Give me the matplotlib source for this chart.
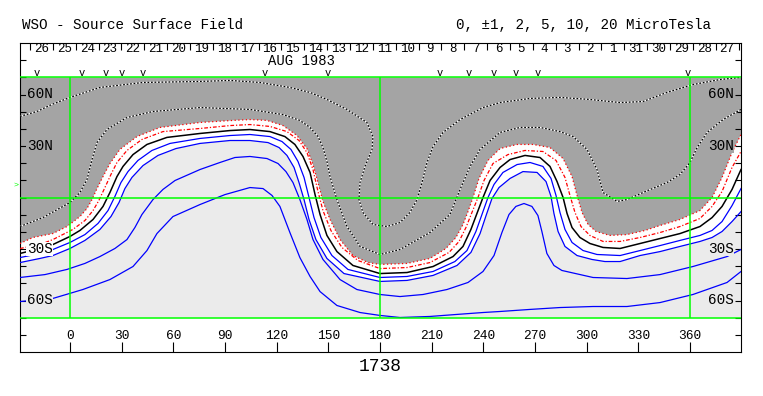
import matplotlib.pyplot as plt
import numpy as np

plt.rcParams['font.family'] = ['Liberation Mono', 'DejaVu Sans Mono']

# contour lines, (lon, lat) in degrees
zero_lon = [-29.0, -17.4, -9.9, 0.0, 5.8, 13.4, 19.2, 23.2, 27.3, 30.8, 36.6, 44.7, 56.3, 75.5, 92.9,
            104.5, 116.1, 124.8, 130.6, 135.3, 139.4, 142.3, 145.2, 149.2, 155.0, 164.3, 180.0, 195.7,
            210.8, 222.4, 228.2, 232.8, 236.3, 239.8, 243.9, 249.7, 255.5, 264.2, 272.9, 278.7, 282.8,
            286.3, 288.6, 291.5, 296.1, 301.9, 309.5, 319.4, 331.0, 342.6, 354.2, 365.8, 372.8, 378.6,
            384.4, 389.6]
zero_lat = [-32.6, -29.7, -27.4, -22.7, -19.2, -12.8, -5.2, 2.9, 12.2, 18.1, 25.0, 30.9, 35.0, 37.3, 39.0,
            39.6, 38.4, 35.5, 30.9, 23.9, 14.6, 1.7, -9.9, -22.1, -31.5, -39.6, -44.3, -43.7,
            -40.2, -34.4, -28.5, -18.6, -9.3, 0.0, 9.9, 17.5, 22.1, 24.5, 23.3, 18.1, 9.3,
            0.0, -9.3, -17.5, -23.3, -26.8, -29.1, -29.7, -26.8, -23.9, -21.0, -16.9, -11.7, -5.2,
            4.7, 16.3]

neg1_lon = [-29.0, -17.4, -9.9, 1.7, 8.7, 13.4, 16.8, 20.3, 23.8, 27.3, 33.1, 41.8, 54.0, 75.5, 92.9,
            104.5, 116.1, 126.0, 133.0, 137.6, 141.1, 144.0, 146.9, 151.5, 157.9, 167.2, 180.0, 195.7,
            209.0, 220.1, 225.9, 229.9, 233.4, 236.9, 240.4, 245.6, 254.3, 264.2, 274.6, 282.2, 287.4,
            290.3, 293.2, 296.7, 301.9, 309.5, 319.4, 331.0, 342.6, 354.2, 365.8, 372.8, 378.6, 384.4,
            389.6]
neg1_lat = [-29.7, -27.4, -24.5, -18.6, -13.4, -7.6, -1.7, 5.8, 13.4, 20.4, 27.4, 33.8, 38.4, 40.2, 41.9,
            42.5, 41.4, 38.4, 33.2, 26.2, 16.3, 3.5, -7.6, -19.2, -29.1, -36.7, -41.4, -40.8,
            -37.9, -32.0, -25.6, -17.5, -8.7, 0.0, 9.9, 19.8, 25.0, 27.4, 26.8, 21.6, 11.7,
            1.2, -8.7, -16.9, -22.1, -25.6, -25.6, -23.3, -20.4, -16.9, -12.2, -5.2, 3.5, 17.5,
            26.8]

neg2_lon = [-29.0, -21.5, -9.9, -1.7, 5.8, 9.9, 12.8, 15.7, 19.2, 23.2, 29.0, 38.9, 52.3, 75.5, 94.6,
            104.5, 114.4, 123.7, 131.8, 137.6, 141.1, 144.0, 146.9, 151.0, 156.8, 164.3, 173.0, 180.0,
            195.7, 209.0, 218.3, 224.1, 228.2, 231.1, 234.0, 237.5, 242.7, 249.7, 259.6, 268.8, 278.7,
            286.3, 291.5, 294.4, 297.3, 300.8, 305.4, 313.5, 323.4, 333.9, 342.6, 354.2, 365.8, 372.8,
            378.6, 384.4, 389.6]
neg2_lat = [-26.8, -23.3, -21.0, -16.9, -11.1, -6.4, -1.2, 5.2, 12.2, 19.8, 28.0, 35.5, 40.8, 43.7, 44.9,
            45.4, 44.9, 41.9, 36.1, 28.5, 19.2, 8.7, -2.3, -12.8, -24.5, -33.8, -37.9, -39.0,
            -38.4, -35.5, -29.7, -23.3, -15.7, -8.2, 0.0, 11.1, 21.6, 28.5, 30.9, 30.9, 29.1,
            22.7, 12.2, 1.2, -8.7, -15.7, -19.8, -22.1, -21.6, -19.2, -16.3, -12.8, -7.6, 0.0,
            11.7, 26.2, 36.7]

pos1_lon = [-29.0, -17.4, -9.9, 0.0, 8.7, 16.3, 22.1, 26.1, 29.6, 33.7, 39.5, 47.6, 58.1, 75.5, 92.9,
            104.5, 116.1, 123.1, 128.3, 132.4, 135.9, 138.8, 141.7, 145.7, 152.1, 161.4, 180.0, 195.7,
            210.8, 223.5, 230.5, 235.7, 239.2, 242.7, 246.2, 251.4, 259.6, 267.1, 274.6, 279.3, 282.2,
            284.5, 287.4, 291.5, 297.9, 306.0, 319.4, 331.0, 342.6, 354.2, 365.8, 372.8, 378.6, 384.4,
            389.6]
pos1_lat = [-35.0, -32.6, -30.3, -26.2, -21.6, -15.1, -7.6, 0.6, 8.7, 15.1, 21.6, 27.4, 31.5, 34.4, 36.1,
            36.7, 35.5, 32.6, 28.0, 21.0, 11.7, 0.0, -11.7, -23.3, -33.8, -41.9, -46.6, -46.0,
            -43.1, -37.3, -30.9, -19.8, -9.9, 0.0, 7.6, 14.6, 19.2, 20.4, 18.1, 11.1, 1.2,
            -8.7, -18.6, -26.2, -30.9, -33.2, -33.8, -30.9, -28.0, -25.0, -22.1, -19.2, -14.0, -4.7,
            5.2]

pos2_lon = [-29.0, -17.4, -9.9, 0.0, 8.7, 17.4, 23.8, 28.5, 31.9, 36.0, 42.4, 51.1, 61.5, 75.5, 92.9,
            104.5, 115.0, 121.4, 126.0, 130.1, 133.0, 135.9, 138.8, 142.8, 149.2, 159.1, 180.0, 195.7,
            210.8, 224.7, 232.8, 238.1, 241.6, 245.0, 249.1, 255.5, 263.0, 271.2, 276.4, 279.3, 281.0,
            283.4, 287.4, 294.4, 303.1, 310.6, 319.4, 331.0, 342.6, 354.2, 365.8, 372.8, 378.6, 384.4,
            389.6]
pos2_lat = [-37.9, -35.5, -33.8, -29.7, -25.0, -18.6, -11.1, -2.9, 5.2, 11.7, 18.6, 24.5, 28.5, 31.5, 33.2,
            33.2, 32.0, 29.1, 24.5, 17.5, 8.7, -1.2, -12.8, -24.5, -35.5, -44.3, -48.9, -48.3,
            -45.4, -39.6, -32.0, -21.0, -10.5, -0.6, 5.8, 11.1, 15.1, 14.6, 9.3, 0.6, -9.3,
            -19.8, -28.5, -33.8, -36.1, -37.3, -37.3, -33.8, -31.5, -28.5, -25.6, -23.3, -19.8, -14.0,
            -8.2]

pos5_lon = [-29.0, -14.5, -1.7, 8.7, 17.4, 26.1, 33.1, 37.7, 41.8, 48.2, 54.0, 61.0, 75.5, 87.1, 95.8,
            104.5, 114.4, 120.8, 125.4, 129.5, 133.5, 137.6, 141.1, 146.9, 156.8, 166.6, 180.0, 191.6,
            205.0, 218.9, 231.1, 239.8, 246.2, 250.8, 254.9, 258.9, 263.6, 268.2, 271.7, 274.0, 276.9,
            281.0, 285.6, 303.7, 323.4, 342.6, 361.7, 381.5, 389.6]
pos5_lat = [-46.6, -44.9, -41.9, -38.4, -34.4, -29.7, -24.5, -17.5, -9.9, -1.2, 4.7, 9.9, 16.3, 20.4, 23.3,
            23.9, 22.7, 19.8, 15.1, 8.7, -1.2, -12.8, -24.5, -36.1, -47.8, -53.6, -56.5, -57.7,
            -56.5, -53.6, -49.5, -43.1, -33.8, -20.4, -9.9, -5.2, -3.5, -5.2, -10.5, -19.8, -32.6,
            -39.6, -42.5, -46.6, -47.2, -44.9, -40.2, -34.4, -30.3]

pos10_lon = [-29.0, -9.9, 7.5, 23.2, 36.6, 44.7, 50.5, 59.8, 75.5, 90.0, 104.5, 112.1, 117.3, 121.9, 127.7,
             133.5, 139.4, 145.2, 155.0, 168.4, 180.0, 191.6, 209.0, 223.5, 239.8, 249.7, 267.1, 284.5,
             303.7, 323.4, 342.6, 361.7, 381.5, 389.6]
pos10_lat = [-60.6, -58.8, -53.6, -47.8, -40.2, -30.9, -21.0, -11.1, -4.1, 1.7, 5.8, 5.2, 1.2, -5.2, -20.4,
             -35.0, -46.0, -54.8, -62.9, -67.0, -68.7, -69.9, -69.3, -68.2, -67.0, -66.4, -65.2, -64.1,
             -63.5, -63.5, -61.2, -56.5, -49.5, -43.1]

neg5_lon = [-29.0, -15.7, 0.0, 5.8, 9.9, 12.8, 15.7, 21.5, 33.1, 48.2, 75.5, 104.5, 123.7, 133.5, 139.4,
            144.0, 146.9, 149.2, 151.0, 155.0, 160.8, 168.4, 180.0, 191.6, 209.0, 220.6, 226.5, 232.3,
            238.1, 249.7, 261.3, 272.9, 284.5, 292.1, 300.2, 306.0, 309.5, 317.6, 323.4, 332.7, 346.6,
            354.2, 360.0, 364.1, 369.9, 379.2, 389.6]
neg5_lat = [-16.9, -11.7, -2.9, 2.9, 10.5, 22.1, 32.0, 39.6, 46.6, 50.1, 52.4, 51.3, 48.3, 44.9, 40.8,
            35.5, 29.1, 21.0, 12.2, -1.2, -16.9, -28.5, -33.2, -30.3, -20.4, -9.9, 4.7, 18.1,
            28.0, 37.9, 40.8, 40.8, 38.4, 35.5, 28.0, 16.3, 2.9, -2.3, -1.2, 2.9, 8.7,
            13.4, 20.4, 29.1, 37.9, 45.4, 51.3]

neg10_lon = [-29.0, -19.2, -10.5, 0.0, 17.4, 42.4, 75.5, 92.9, 110.3, 127.7, 139.4, 149.2, 160.8, 172.4,
             175.9, 175.4, 171.3, 168.4, 167.8, 170.1, 175.9, 184.1, 191.6, 197.4, 201.5, 204.4, 207.3,
             210.8, 216.6, 226.5, 239.8, 249.7, 267.1, 284.5, 301.9, 319.4, 332.7, 346.6, 361.7, 377.4,
             389.6]
neg10_lat = [47.2, 50.1, 54.2, 58.3, 64.1, 67.0, 67.6, 68.2, 67.0, 64.1, 61.2, 57.1, 51.3, 43.7,
             35.5, 28.0, 18.1, 8.7, -1.2, -8.7, -15.7, -16.9, -14.6, -8.7, -1.2, 8.7, 20.4,
             29.7, 37.9, 45.4, 52.4, 55.3, 57.7, 58.3, 57.1, 55.3, 55.9, 61.2, 65.8, 68.7,
             70.0]

# axis annotation values
lon_ticks = list(range(0, 361, 30))
lat_labels = {60: '60N', 30: '30N', -30: '30S', -60: '60S'}
days = [26, 25, 24, 23, 22, 21, 20, 19, 18, 17, 16, 15, 14, 13, 12, 11, 10, 9, 8, 7, 6, 5, 4, 3, 2, 1,
        31, 30, 29, 28, 27]
day_start = -23.2      # longitude of the first day separator
day_step = 13.27       # degrees per day
obs_lon = [-19.2, 7.0, 20.9, 30.2, 42.4, 113.2, 149.8, 214.8, 231.7, 246.2, 259.0, 271.8, 358.8]
b0_lat = 7.0
rotation = '1738'

DARK = '#a4a4a4'
LIGHT = '#ebebeb'
GREEN = '#00ff00'
XMIN, XMAX = -29.0, 389.6
MAPLAT = 70

fig = plt.figure(figsize=(7.63, 3.96), dpi=100)
ax = fig.add_axes([20 / 763, 44 / 396, 721 / 763, 309 / 396])
ax.set_xlim(XMIN, XMAX)
ax.set_ylim(-90, 90)

# shaded polarity regions
ax.fill(np.r_[neg2_lon, XMAX, XMIN], np.r_[neg2_lat, MAPLAT, MAPLAT], color=DARK, lw=0, zorder=1)
ax.fill(np.r_[pos2_lon, XMAX, XMIN], np.r_[pos2_lat, -MAPLAT, -MAPLAT], color=LIGHT, lw=0, zorder=1)

# negative contours in the dark region: black/white dashes
for lo, la in [(neg5_lon, neg5_lat), (neg10_lon, neg10_lat)]:
    ax.plot(lo, la, color='white', lw=0.9, zorder=3)
    ax.plot(lo, la, color='black', lw=0.9, dashes=(1.4, 1.4), zorder=3)

ax.plot(neg2_lon, neg2_lat, color='red', lw=0.9, dashes=(1, 2), zorder=3)
ax.plot(neg1_lon, neg1_lat, color='red', lw=0.9, dashes=(3, 1.5, 1, 1.5), zorder=3)
ax.plot(zero_lon, zero_lat, color='black', lw=1.1, zorder=3)
for lo, la in [(pos1_lon, pos1_lat), (pos2_lon, pos2_lat), (pos5_lon, pos5_lat), (pos10_lon, pos10_lat)]:
    ax.plot(lo, la, color='blue', lw=0.9, zorder=3)

# green reference grid
for la in [-MAPLAT, 0, MAPLAT]:
    ax.axhline(la, color=GREEN, lw=1.1, zorder=4)
ax.vlines([0, 180, 360], -MAPLAT, MAPLAT, color=GREEN, lw=1.1, zorder=4)

# ticks
ax.set_xticks(lon_ticks)
ax.set_xticks([day_start + day_step * k for k in range(len(days) + 1)], minor=True)
ax.xaxis.remove_overlapping_locs = False
ax.tick_params(axis='x', which='major', direction='in', length=7.5, width=0.8,
               bottom=True, top=False, labelbottom=False)
ax.tick_params(axis='x', which='minor', direction='in', length=5, width=0.8,
               bottom=False, top=True)
ax.set_yticks(range(-80, 81, 10))
ax.tick_params(axis='y', direction='in', length=4.5, width=0.8,
               left=True, right=True, labelleft=False)
for s in ax.spines.values():
    s.set_linewidth(0.8)

# latitude labels
for la, txt in lat_labels.items():
    bg = DARK if la > 0 else (LIGHT if la < -40 else 'white')
    ax.text(-25.0, la, txt, ha='left', va='center', fontsize=10.4, zorder=5,
            bbox=dict(facecolor=bg, edgecolor='none', pad=0.3))
    bg = DARK if la > 0 else LIGHT
    ax.text(385.5, la, txt, ha='right', va='center', fontsize=10.4, zorder=5,
            bbox=dict(facecolor=bg, edgecolor='none', pad=0.3))

# longitude labels
for lo in lon_ticks:
    ax.text(lo, -80.5, str(lo), ha='center', va='center', fontsize=9.3)

# day numbers
for k, d in enumerate(days):
    ax.text(day_start + day_step * (k + 0.5), 86.6, str(d), ha='center', va='center', fontsize=9)
ax.text(134.7, 79.8, 'AUG 1983', ha='center', va='center', fontsize=10)
for lo in obs_lon:
    ax.text(lo, 72.6, 'v', ha='center', va='center', fontsize=7.5)

ax.text(XMIN - 2.3, b0_lat, '>', ha='center', va='center', fontsize=6, color=GREEN, clip_on=False)
ax.text(180, -98.4, rotation, ha='center', va='center', fontsize=13, clip_on=False)

fig.text(22 / 763, 1 - 25 / 396, 'WSO - Source Surface Field', ha='left', va='center', fontsize=10.3)
fig.text(711 / 763, 1 - 25 / 396, '0, \u00b11, 2, 5, 10, 20 MicroTesla', ha='right', va='center',
         fontsize=10.3)

fig.savefig('out.png', dpi=100, facecolor='white')
